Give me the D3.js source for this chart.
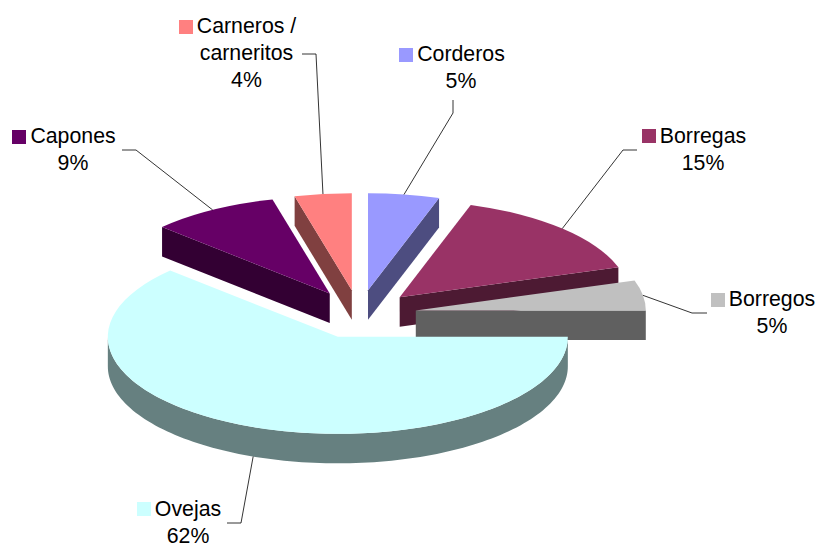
<!DOCTYPE html>
<html>
<head>
<meta charset="utf-8">
<script src="https://cdn.jsdelivr.net/npm/d3@7"></script>
<style>
  html, body { margin: 0; padding: 0; background: #fff; }
  svg { display: block; }
  text { font-family: "Liberation Sans", Arial, sans-serif; font-size: 21.3px; fill: #000; }
</style>
</head>
<body>
<div id="viz"></div>
<script>
// --- data ---
const categories = ["Ovejas", "Capones", "Carneros / carneritos", "Corderos", "Borregas", "Borregos"];
const shares = [62, 9, 4, 5, 15, 5];
const labelLines = [["Ovejas"], ["Capones"], ["Carneros /", "carneritos"], ["Corderos"], ["Borregas"], ["Borregos"]];

// --- colours ---
const topColors = ["#CCFFFF", "#660066", "#FF8080", "#9999FF", "#993366", "#C0C0C0"];
const wallColors = ["#668080", "#330033", "#804040", "#4D4D80", "#4D1A33", "#606060"];

// --- layout: label text anchor (centre x, first baseline), key top and leader elbow ---
const labelPos = [[188, 516], [73, 143], [246.5, 33], [461, 61], [703, 143], [772, 306]];
const keyTop = [502, 130, 20, 48, 129, 293];
const elbows = [[[241, 523], [227, 523]], [[136, 150], [122, 150]], [[316, 54], [302, 54]],
                [[453, 113], [453, 100]], [[623, 150], [637, 150]], [[692, 313], [707, 313]]];

const width = 819, height = 544;
const center = { x: 359, y: 314.3 };
const rx = 230, squash = 97 / 230, depth = 29.5, explode = 57.5;
const lineH = 27;

const svg = d3.select("#viz").append("svg")
  .attr("width", width).attr("height", height)
  .attr("viewBox", `0 0 ${width} ${height}`);

// 3D円グラフ: 角度は d3.pie、上面は d3.arc を潰して描く
const pie = d3.pie().sort(null).value(d => d)
  .startAngle(Math.PI / 2).endAngle(Math.PI / 2 + 2 * Math.PI);
const arc = d3.arc().innerRadius(0).outerRadius(rx);

const slices = pie(shares).map((d, i) => {
  const mid = (d.startAngle + d.endAngle) / 2;
  return {
    d, i, mid,
    cx: center.x + explode * Math.sin(mid),
    cy: center.y - explode * Math.cos(mid) * squash
  };
});

function rim(s, a) {
  return [s.cx + rx * Math.sin(a), s.cy - rx * Math.cos(a) * squash];
}

const wall = d3.area().x(p => p[0]).y0(p => p[1]).y1(p => p[1] + depth);

// 奥から手前へ
const ordered = slices.slice().sort((a, b) => a.cy - b.cy);

ordered.forEach(s => {
  const g = svg.append("g");
  const fill = wallColors[s.i];
  const apex = [s.cx, s.cy];
  const midPt = rim(s, s.mid);

  // 切断面: 内側が線より上にあるときだけ見える
  [s.d.startAngle, s.d.endAngle].forEach(a => {
    const p = rim(s, a);
    if (Math.abs(p[0] - apex[0]) < 1) return;
    const t = (midPt[0] - apex[0]) / (p[0] - apex[0]);
    const lineY = apex[1] + t * (p[1] - apex[1]);
    if (midPt[1] < lineY) {
      g.append("path").attr("d", wall(p[0] < apex[0] ? [p, apex] : [apex, p])).attr("fill", fill);
    }
  });

  // 外周の壁 (90度〜270度が手前側)
  const a0 = Math.max(s.d.startAngle, Math.PI / 2);
  const a1 = Math.min(s.d.endAngle, 1.5 * Math.PI);
  if (a1 > a0) {
    const pts = d3.range(0, 121).map(k => rim(s, a0 + (a1 - a0) * k / 120));
    g.append("path").attr("d", wall(pts)).attr("fill", fill);
  }

  g.append("path")
    .attr("transform", `translate(${s.cx},${s.cy}) scale(1,${squash})`)
    .attr("d", arc(s.d))
    .attr("fill", topColors[s.i]);
});

// --- 引き出し線とラベル ---
const leader = d3.line();
slices.forEach(s => {
  const start = rim(s, s.mid);
  if (Math.cos(s.mid) < 0) start[1] += depth; // 手前側は壁の下端から
  svg.append("path")
    .attr("d", leader([start, ...elbows[s.i]]))
    .attr("fill", "none").attr("stroke", "#000").attr("stroke-width", 0.8);

  const [lx, ly] = labelPos[s.i];
  const lines = labelLines[s.i].concat([shares[s.i] + "%"]);
  const texts = svg.append("g").selectAll("text").data(lines).enter().append("text")
    .attr("x", lx).attr("y", (d, k) => ly + k * lineH)
    .attr("text-anchor", "middle")
    .text(d => d);

  // 凡例キーは先頭行の左
  const w = texts.nodes()[0].getComputedTextLength();
  svg.append("rect")
    .attr("x", Math.round(lx - w / 2 - 18)).attr("y", keyTop[s.i])
    .attr("width", 14).attr("height", 14)
    .attr("fill", topColors[s.i]);
});
</script>
</body>
</html>
